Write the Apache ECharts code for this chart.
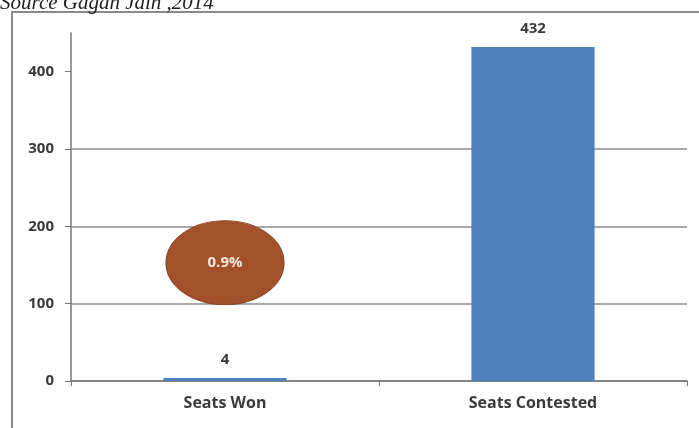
<!DOCTYPE html>
<html>
<head>
<meta charset="utf-8">
<script src="https://cdn.jsdelivr.net/npm/echarts@6/dist/echarts.min.js"></script>
<style>
  html, body { margin: 0; padding: 0; background: #fff; }
  #chart { width: 699px; height: 428px; }
</style>
</head>
<body>
<div id="chart"></div>
<script>
// Seats won vs. seats contested
const categories = ['Seats Won', 'Seats Contested'];
const seatValues = [4, 432];
const yTicks = [0, 100, 200, 300, 400];
// Share badge placed over the first bar at this y value
const badgeY = 153;

const share = (seatValues[0] / seatValues[1] * 100).toFixed(1) + '%';

const chart = echarts.init(document.getElementById('chart'), null, { renderer: 'canvas' });

const labelFont = 'Open Sans, Liberation Sans, sans-serif';

chart.setOption({
  animation: false,
  backgroundColor: '#ffffff',
  title: {
    text: 'Source Gagan Jain ,2014',
    left: 0,
    top: -7,
    padding: 0,
    textStyle: {
      fontFamily: 'Liberation Serif, serif',
      fontStyle: 'italic',
      fontWeight: 'normal',
      fontSize: 21,
      color: '#222'
    }
  },
  graphic: [{
    type: 'rect',
    shape: { x: 12, y: 12, width: 720, height: 440 },
    style: { fill: 'none', stroke: '#8a8a8a', lineWidth: 2 },
    silent: true,
    z: -1
  }],
  grid: { left: 71, right: 12, top: 33, bottom: 47 },
  xAxis: {
    type: 'category',
    data: categories,
    axisLine: { lineStyle: { color: '#777', width: 1.5 } },
    axisTick: { show: true, length: 5, lineStyle: { color: '#777' } },
    axisLabel: {
      margin: 14,
      fontFamily: labelFont,
      fontWeight: 'bold',
      fontSize: 16,
      color: '#3a3a3a'
    }
  },
  yAxis: {
    type: 'value',
    min: 0,
    max: 450,
    interval: 100,
    axisLine: { show: true, lineStyle: { color: '#777', width: 1.5 } },
    axisTick: { show: true, length: 6, customValues: yTicks, lineStyle: { color: '#777' } },
    axisLabel: {
      customValues: yTicks,
      margin: 17,
      fontFamily: labelFont,
      fontWeight: 'bold',
      fontSize: 15,
      color: '#3a3a3a'
    },
    splitLine: {
      show: true,
      showMaxLine: false,
      lineStyle: { color: '#8c8c8c', width: 1.5 }
    }
  },
  series: [{
    type: 'bar',
    data: seatValues,
    barWidth: '40%',
    itemStyle: { color: '#4F81BD' },
    label: {
      show: true,
      position: 'top',
      distance: 11,
      fontFamily: labelFont,
      fontWeight: 'bold',
      fontSize: 15,
      color: '#3a3a3a'
    }
  }, {
    type: 'scatter',
    data: [[categories[0], badgeY]],
    symbol: 'circle',
    symbolSize: [118, 84],
    itemStyle: { color: '#A3512B', opacity: 1, borderColor: '#8f4523', borderWidth: 1 },
    label: {
      show: true,
      position: 'inside',
      formatter: () => share,
      fontFamily: labelFont,
      fontWeight: 'bold',
      fontSize: 15,
      color: '#f3e6dc'
    },
    z: 5
  }]
});
</script>
</body>
</html>
